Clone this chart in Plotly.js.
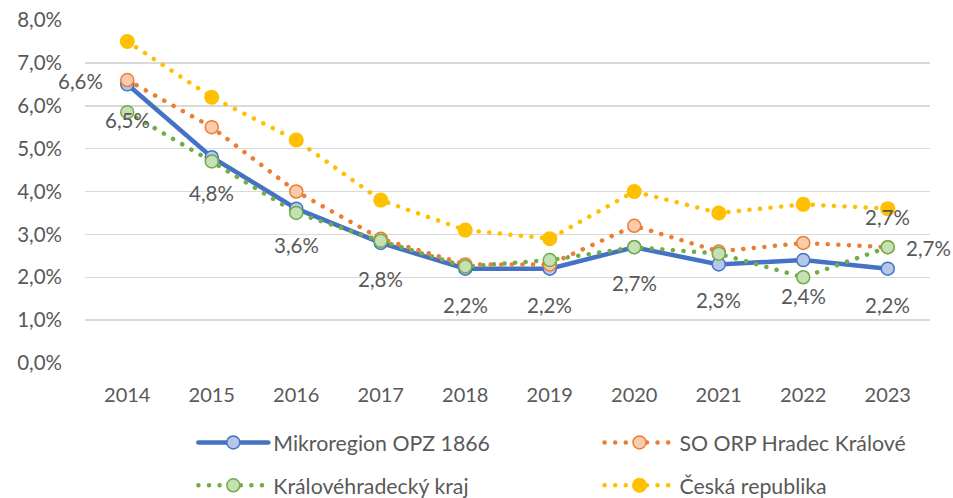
<!DOCTYPE html>
<html>
<head>
<meta charset="utf-8">
<script src="https://cdn.plot.ly/plotly-3.0.1.min.js"></script>
<style>
html,body{margin:0;padding:0;background:#fff;}
#chart{width:953px;height:498px;}
.js-line{stroke-linecap:round !important;}
</style>
</head>
<body>
<div id="chart"></div>
<script>
const years = ['2014','2015','2016','2017','2018','2019','2020','2021','2022','2023'];
const mikroregion = [6.5, 4.8, 3.6, 2.8, 2.2, 2.2, 2.7, 2.3, 2.4, 2.2];
const soOrp = [6.6, 5.5, 4.0, 2.9, 2.3, 2.3, 3.2, 2.6, 2.8, 2.7];
const kraj = [5.85, 4.7, 3.5, 2.85, 2.25, 2.4, 2.7, 2.55, 2.0, 2.7];
const cr = [7.5, 6.2, 5.2, 3.8, 3.1, 2.9, 4.0, 3.5, 3.7, 3.6];
const seriesNames = ['Mikroregion OPZ 1866', 'SO ORP Hradec Králové', 'Královéhradecký kraj', 'Česká republika'];
const yTicks = [0, 1, 2, 3, 4, 5, 6, 7, 8];

const FONT = 'Lato, "Open Sans", sans-serif';
const TXT = '#595959';
const dotDash = '0.1px,10.5px';

const traces = [
  {x: years, y: mikroregion, name: seriesNames[0], type: 'scatter', mode: 'lines+markers',
   line: {color: '#4472c4', width: 4.5},
   marker: {symbol: 'circle', size: 13, color: '#b4c7e7', line: {color: '#4472c4', width: 1.5}},
   legend: 'legend'},
  {x: years, y: soOrp, name: seriesNames[1], type: 'scatter', mode: 'lines+markers',
   line: {color: '#ed7d31', width: 4.5, dash: dotDash},
   marker: {symbol: 'circle', size: 13, color: '#f8cbad', line: {color: '#ed7d31', width: 1.5}},
   legend: 'legend2'},
  {x: years, y: kraj, name: seriesNames[2], type: 'scatter', mode: 'lines+markers',
   line: {color: '#70ad47', width: 4.5, dash: dotDash},
   marker: {symbol: 'circle', size: 13, color: '#c5e0b4', line: {color: '#70ad47', width: 1.5}},
   legend: 'legend3'},
  {x: years, y: cr, name: seriesNames[3], type: 'scatter', mode: 'lines+markers',
   line: {color: '#ffc000', width: 4.5, dash: dotDash},
   marker: {symbol: 'circle', size: 15, color: '#ffc000', line: {color: '#ffc000', width: 0}},
   legend: 'legend4'}
];

const fmt = v => v.toFixed(1).replace('.', ',') + '%';
const annFont = {family: FONT, size: 20.5, color: TXT};
const annotations = [];
years.forEach((yr, i) => {
  annotations.push({xref: 'x', yref: 'y', x: i, y: mikroregion[i], text: fmt(mikroregion[i]), showarrow: false,
    yshift: -36, font: annFont});
});
annotations.push({xref: 'x', yref: 'y', x: 0, y: soOrp[0], text: fmt(soOrp[0]), showarrow: false,
  xanchor: 'right', xshift: -22, yshift: -1, font: annFont});
annotations.push({xref: 'x', yref: 'y', x: 9, y: soOrp[9], text: fmt(soOrp[9]), showarrow: false,
  xanchor: 'left', xshift: 16, yshift: -1, font: annFont});
annotations.push({xref: 'x', yref: 'y', x: 9, y: kraj[9], text: fmt(kraj[9]), showarrow: false,
  yshift: 30, font: annFont});

const legBase = {xanchor: 'left', yanchor: 'middle', orientation: 'v', itemwidth: 70,
  bgcolor: 'rgba(0,0,0,0)', borderwidth: 0, font: {family: FONT, size: 21.3, color: TXT}};

const layout = {
  width: 953, height: 498,
  margin: {l: 85, r: 23, t: 20, b: 135, autoexpand: false},
  paper_bgcolor: '#fff', plot_bgcolor: '#fff',
  font: {family: FONT, size: 20, color: TXT},
  showlegend: true,
  hovermode: false,
  xaxis: {type: 'category', showgrid: false, zeroline: false, showline: false,
    ticks: '', ticklabelstandoff: 18, tickfont: {family: FONT, size: 20, color: TXT},
    range: [-0.5, 9.5]},
  yaxis: {range: [0, 8], tickvals: yTicks, ticktext: yTicks.map(fmt),
    showgrid: true, gridcolor: '#d9d9d9', gridwidth: 1.5, zeroline: false, showline: false,
    ticks: '', ticklabelstandoff: 22, tickfont: {family: FONT, size: 20.5, color: TXT}},
  annotations: annotations,
  legend: Object.assign({}, legBase, {x: 0.1282, y: -0.232}),
  legend2: Object.assign({}, legBase, {x: 0.6089, y: -0.232}),
  legend3: Object.assign({}, legBase, {x: 0.1282, y: -0.357}),
  legend4: Object.assign({}, legBase, {x: 0.6089, y: -0.357})
};

Plotly.newPlot('chart', traces, layout, {displayModeBar: false, staticPlot: true});
</script>
</body>
</html>
